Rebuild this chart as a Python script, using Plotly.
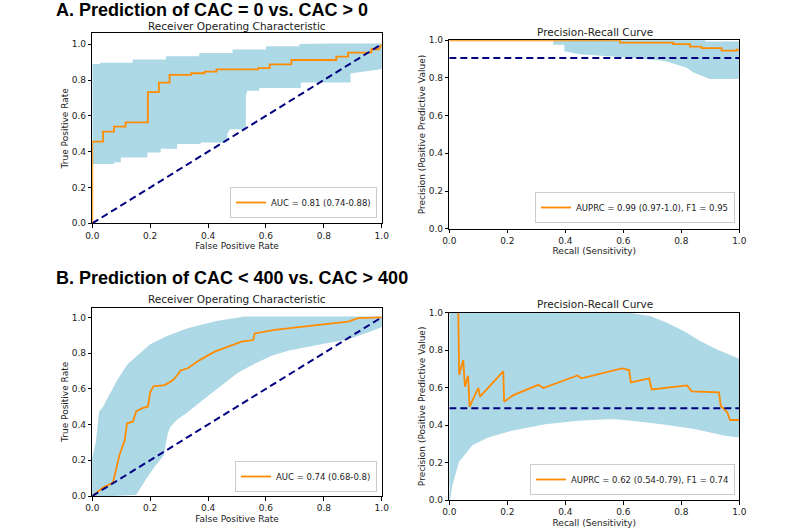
import plotly.graph_objects as go

# ---------------- data ----------------
# A: CAC = 0 vs CAC > 0 -- ROC
roc_a_fpr = [0, 0, 0.037, 0.037, 0.075, 0.075, 0.115, 0.115, 0.192, 0.192, 0.23, 0.23,
             0.267, 0.267, 0.342, 0.342, 0.388, 0.388, 0.429, 0.429, 0.573, 0.573, 0.613,
             0.613, 0.688, 0.688, 0.843, 0.843, 0.884, 0.884, 0.964, 0.964, 0.99, 1.0]
roc_a_tpr = [0, 0.456, 0.456, 0.512, 0.512, 0.54, 0.54, 0.564, 0.564, 0.732, 0.732, 0.786,
             0.786, 0.829, 0.829, 0.838, 0.838, 0.847, 0.847, 0.86, 0.86, 0.866, 0.866,
             0.888, 0.888, 0.912, 0.912, 0.931, 0.931, 0.953, 0.953, 0.972, 0.972, 1.0]
roc_a_band_up_x = [0, 0.03, 0.03, 0.142, 0.142, 0.257, 0.257, 0.372, 0.372, 0.487, 0.487,
                   0.603, 0.603, 0.718, 0.718, 0.83, 1.0]
roc_a_band_up_y = [0.885, 0.885, 0.893, 0.893, 0.91, 0.91, 0.928, 0.928, 0.947, 0.947, 0.966,
                   0.966, 0.984, 0.984, 0.997, 1.0, 1.0]
roc_a_band_lo_x = [0, 0.073, 0.073, 0.096, 0.096, 0.188, 0.188, 0.234, 0.234, 0.29, 0.29,
                   0.372, 0.372, 0.464, 0.464, 0.476, 0.528, 0.528, 0.533, 0.574, 0.574,
                   0.718, 0.718, 0.89, 0.89, 1.0]
roc_a_band_lo_y = [0.335, 0.335, 0.345, 0.345, 0.372, 0.372, 0.40, 0.40, 0.42, 0.42, 0.447,
                   0.447, 0.456, 0.456, 0.503, 0.53, 0.53, 0.707, 0.745, 0.745, 0.76, 0.76,
                   0.79, 0.79, 0.84, 0.866]
roc_a_label = "AUC = 0.81 (0.74-0.88)"

# A: precision-recall
pr_a_recall = [0, 0.589, 0.589, 0.772, 0.772, 0.83, 0.83, 0.87, 0.87, 0.939, 0.939, 0.99, 0.99, 1.0]
pr_a_precision = [1.0, 1.0, 0.988, 0.988, 0.98, 0.98, 0.966, 0.966, 0.958, 0.958, 0.945,
                  0.945, 0.95, 0.95]
pr_a_band_up_x = [0.361, 0.88, 0.88, 1.0]
pr_a_band_up_y = [1.0, 1.0, 0.99, 0.99]
pr_a_band_lo_x = [0.361, 0.361, 0.399, 0.399, 0.45, 0.52, 0.634, 0.738, 0.818, 0.841, 0.899,
                  0.979, 1.0]
pr_a_band_lo_y = [1.0, 0.98, 0.98, 0.945, 0.93, 0.922, 0.91, 0.896, 0.86, 0.834, 0.798,
                  0.798, 0.80]
pr_a_baseline = 0.906
pr_a_label = "AUPRC = 0.99 (0.97-1.0), F1 = 0.95"

# B: CAC < 400 vs CAC > 400 -- ROC
roc_b_fpr = [0, 0.02, 0.04, 0.06, 0.071, 0.075, 0.094, 0.112, 0.12, 0.14, 0.152, 0.175,
             0.192, 0.2, 0.211, 0.25, 0.279, 0.294, 0.305, 0.33, 0.372, 0.423, 0.47, 0.516,
             0.556, 0.561, 0.63, 0.699, 0.775, 0.884, 0.918, 1.0]
roc_b_tpr = [0, 0.025, 0.05, 0.065, 0.075, 0.1, 0.23, 0.313, 0.407, 0.416, 0.475, 0.493,
             0.5, 0.58, 0.614, 0.621, 0.649, 0.677, 0.703, 0.715, 0.762, 0.808, 0.836,
             0.864, 0.873, 0.91, 0.93, 0.944, 0.957, 0.976, 0.996, 1.0]
roc_b_band_up_x = [0, 0, 0.015, 0.026, 0.04, 0.06, 0.089, 0.123, 0.158, 0.2, 0.257, 0.33,
                   0.43, 0.526, 1.0]
roc_b_band_up_y = [0, 0.2, 0.3, 0.47, 0.5, 0.56, 0.649, 0.733, 0.785, 0.845, 0.89, 0.935,
                   0.975, 1.0, 1.0]
roc_b_band_lo_x = [0, 0.15, 0.188, 0.215, 0.245, 0.258, 0.268, 0.291, 0.33, 0.388, 0.446,
                   0.503, 0.561, 0.619, 0.676, 0.79, 0.884, 0.953, 1.0]
roc_b_band_lo_y = [0, 0.01, 0.108, 0.17, 0.23, 0.35, 0.39, 0.43, 0.475, 0.55, 0.625, 0.695,
                   0.745, 0.789, 0.817, 0.854, 0.882, 0.92, 0.95]
roc_b_label = "AUC = 0.74 (0.68-0.8)"

# B: precision-recall
pr_b_recall = [0.031, 0.034, 0.048, 0.054, 0.065, 0.07, 0.1, 0.106, 0.186, 0.189, 0.221,
               0.307, 0.324, 0.442, 0.456, 0.595, 0.62, 0.626, 0.689, 0.698, 0.82, 0.836,
               0.93, 0.936, 0.958, 0.968, 1.0]
pr_b_precision = [1.0, 0.669, 0.747, 0.605, 0.663, 0.498, 0.598, 0.552, 0.687, 0.525, 0.56,
                  0.615, 0.598, 0.665, 0.65, 0.703, 0.694, 0.628, 0.65, 0.59, 0.612, 0.58,
                  0.575, 0.502, 0.47, 0.427, 0.427]
pr_b_band_up_x = [0, 0.6, 0.692, 0.749, 0.807, 0.864, 0.922, 1.0]
pr_b_band_up_y = [1.0, 1.0, 0.979, 0.943, 0.899, 0.845, 0.8, 0.75]
pr_b_band_lo_x = [0, 0.008, 0.031, 0.077, 0.134, 0.215, 0.33, 0.445, 0.56, 0.629, 0.732,
                  0.847, 0.95, 1.0]
pr_b_band_lo_y = [0, 0.08, 0.205, 0.294, 0.338, 0.374, 0.409, 0.427, 0.436, 0.427, 0.409,
                  0.383, 0.347, 0.338]
pr_b_baseline = 0.49
pr_b_label = "AUPRC = 0.62 (0.54-0.79), F1 = 0.74"

tick_vals = [0.0, 0.2, 0.4, 0.6, 0.8, 1.0]
tick_text = ["0.0", "0.2", "0.4", "0.6", "0.8", "1.0"]

# ---------------- styling ----------------
W, H = 800, 530
BAND = "#add8e6"
ORANGE = "#ff8c00"
NAVY = "#000080"
FONT = "DejaVu Sans"


def px_x(p):
    return p / W


def px_y(p):
    return 1 - p / H


fig = go.Figure()

panels = [
    ("x", "y", "legend", (roc_a_band_up_x, roc_a_band_up_y, roc_a_band_lo_x, roc_a_band_lo_y),
     (roc_a_fpr, roc_a_tpr), roc_a_label, None),
    ("x2", "y2", "legend2", (pr_a_band_up_x, pr_a_band_up_y, pr_a_band_lo_x, pr_a_band_lo_y),
     (pr_a_recall, pr_a_precision), pr_a_label, pr_a_baseline),
    ("x3", "y3", "legend3", (roc_b_band_up_x, roc_b_band_up_y, roc_b_band_lo_x, roc_b_band_lo_y),
     (roc_b_fpr, roc_b_tpr), roc_b_label, None),
    ("x4", "y4", "legend4", (pr_b_band_up_x, pr_b_band_up_y, pr_b_band_lo_x, pr_b_band_lo_y),
     (pr_b_recall, pr_b_precision), pr_b_label, pr_b_baseline),
]

for xa, ya, lg, band, curve, label, base in panels:
    ux, uy, lx, ly = band
    fig.add_trace(go.Scatter(
        x=list(ux) + list(reversed(lx)), y=list(uy) + list(reversed(ly)),
        fill="toself", fillcolor=BAND, mode="lines",
        line=dict(color=BAND, width=1.5), showlegend=False, hoverinfo="skip",
        xaxis=xa, yaxis=ya))
    fig.add_trace(go.Scatter(
        x=curve[0], y=curve[1], mode="lines", name=label,
        line=dict(color=ORANGE, width=1.8), legend=lg, xaxis=xa, yaxis=ya))
    if base is None:
        bx, by = [0, 1], [0, 1]
    else:
        bx, by = [0, 1], [base, base]
    fig.add_trace(go.Scatter(
        x=bx, y=by, mode="lines", line=dict(color=NAVY, width=2, dash="7px,4px"),
        showlegend=False, hoverinfo="skip", xaxis=xa, yaxis=ya))

axis_common = dict(
    showgrid=False, zeroline=False, showline=True, mirror=True, automargin=False,
    linecolor="black", linewidth=1, ticks="outside", ticklen=3.5, tickwidth=1,
    tickcolor="black", tickvals=tick_vals, ticktext=tick_text,
    tickfont=dict(family=FONT, size=9, color="#222222"),
)
title_font = dict(family=FONT, size=9, color="#222222")

left_x = [px_x(92.3), px_x(381.7)]
right_x = [px_x(449.3), px_x(739.3)]

fig.update_layout(
    xaxis=dict(axis_common, domain=left_x, range=[0, 1], anchor="y",
               title=dict(text="False Positive Rate", font=title_font, standoff=3)),
    yaxis=dict(axis_common, domain=[px_y(223.3), px_y(33.3)], range=[0, 1.061], anchor="x",
               title=dict(text="True Positive Rate", font=title_font, standoff=1)),
    xaxis2=dict(axis_common, domain=right_x, range=[0, 1], anchor="y2",
                title=dict(text="Recall (Sensitivity)", font=title_font, standoff=0)),
    yaxis2=dict(axis_common, domain=[px_y(228.7), px_y(40.3)], range=[0, 1], anchor="x2",
                title=dict(text="Precision (Positive Predictive Value)", font=title_font,
                           standoff=1)),
    xaxis3=dict(axis_common, domain=left_x, range=[0, 1], anchor="y3",
                title=dict(text="False Positive Rate", font=title_font, standoff=3)),
    yaxis3=dict(axis_common, domain=[px_y(496), px_y(307.7)], range=[0, 1.054], anchor="x3",
                title=dict(text="True Positive Rate", font=title_font, standoff=1)),
    xaxis4=dict(axis_common, domain=right_x, range=[0, 1], anchor="y4",
                title=dict(text="Recall (Sensitivity)", font=title_font, standoff=3)),
    yaxis4=dict(axis_common, domain=[px_y(500), px_y(312.7)], range=[0, 1], anchor="x4",
                title=dict(text="Precision (Positive Predictive Value)", font=title_font,
                           standoff=1)),
)

legend_common = dict(
    bgcolor="rgba(255,255,255,0.85)", bordercolor="#cccccc", borderwidth=1,
    font=dict(family=FONT, size=8.5, color="#222222"), xanchor="right", yanchor="bottom",
    itemwidth=30, tracegroupgap=0,
)
fig.update_layout(
    legend=dict(legend_common, x=px_x(377), y=px_y(218)),
    legend2=dict(legend_common, x=px_x(735), y=px_y(223)),
    legend3=dict(legend_common, x=px_x(377), y=px_y(492)),
    legend4=dict(legend_common, x=px_x(735), y=px_y(495)),
)

annotations = [
    dict(text="<b>A. Prediction of CAC = 0 vs. CAC > 0</b>", x=px_x(54), y=px_y(10),
         xanchor="left", yanchor="middle",
         font=dict(family="Liberation Sans", size=18, color="black")),
    dict(text="<b>B. Prediction of CAC < 400 vs. CAC > 400</b>", x=px_x(54), y=px_y(278),
         xanchor="left", yanchor="middle",
         font=dict(family="Liberation Sans", size=18, color="black")),
    dict(text="Receiver Operating Characteristic", x=px_x(237), y=px_y(26),
         xanchor="center", yanchor="middle", font=dict(family=FONT, size=10.5, color="#222222")),
    dict(text="Precision-Recall Curve", x=px_x(595), y=px_y(32),
         xanchor="center", yanchor="middle", font=dict(family=FONT, size=10.5, color="#222222")),
    dict(text="Receiver Operating Characteristic", x=px_x(237), y=px_y(299),
         xanchor="center", yanchor="middle", font=dict(family=FONT, size=10.5, color="#222222")),
    dict(text="Precision-Recall Curve", x=px_x(595), y=px_y(304),
         xanchor="center", yanchor="middle", font=dict(family=FONT, size=10.5, color="#222222")),
]
for a in annotations:
    a.update(xref="paper", yref="paper", showarrow=False)

fig.update_layout(
    width=W, height=H, margin=dict(l=0, r=0, t=0, b=0, autoexpand=False),
    paper_bgcolor="white", plot_bgcolor="white",
    annotations=annotations, showlegend=True,
)

# remove the browser's default page margin so the 800x530 figure fills the window exactly
fig.write_html(
    "out.html",
    config={"displayModeBar": False},
    post_script="document.body.style.margin='0';document.body.style.overflow='hidden';",
)
